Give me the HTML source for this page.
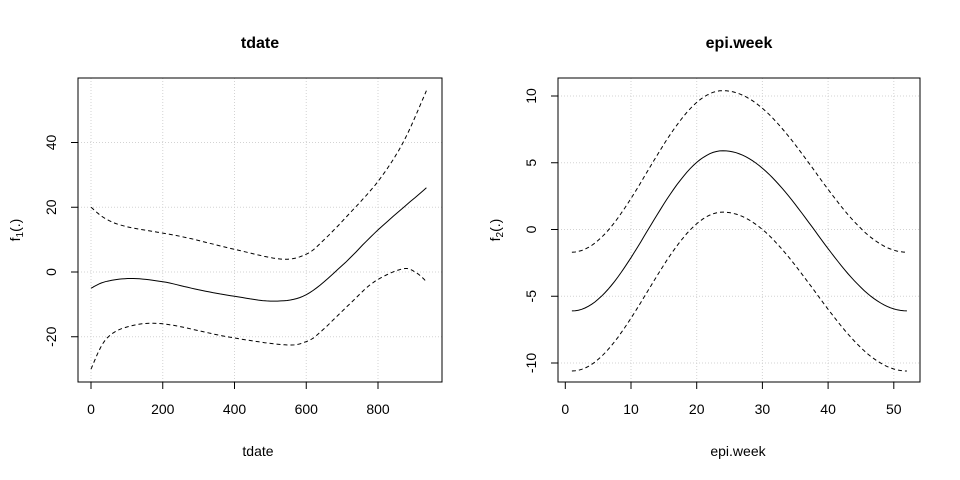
<!DOCTYPE html>
<html><head><meta charset="utf-8"><style>body{margin:0;background:#fff}svg{display:block;font-family:"Liberation Sans",Arial,sans-serif}</style></head>
<body>
<svg id="s" width="960" height="480" xmlns="http://www.w3.org/2000/svg">
<g font-size="14" fill="#000">
<text x="260" y="48" text-anchor="middle" font-weight="bold" font-size="16">tdate</text>
<text x="739" y="48" text-anchor="middle" font-weight="bold" font-size="16">epi.week</text>
<text x="258" y="456" text-anchor="middle">tdate</text>
<text x="738" y="456" text-anchor="middle">epi.week</text>
<text transform="translate(20,230) rotate(-90)" text-anchor="middle">f<tspan font-size="10" dy="3">1</tspan><tspan dy="-3">(.)</tspan></text>
<text transform="translate(500,230) rotate(-90)" text-anchor="middle">f<tspan font-size="10" dy="3">2</tspan><tspan dy="-3">(.)</tspan></text>
</g>
<g id="g"></g>
</svg>
<script>
var g=document.getElementById('g'),NS='http://www.w3.org/2000/svg';
function el(t,a,txt){var e=document.createElementNS(NS,t);for(var k in a)e.setAttribute(k,a[k]);if(txt!==undefined)e.textContent=txt;g.appendChild(e);return e;}
function cr(P,n){var o=[];for(var i=0;i<P.length-1;i++){var p0=P[Math.max(i-1,0)],p1=P[i],p2=P[i+1],p3=P[Math.min(i+2,P.length-1)];for(var j=0;j<n;j++){var t=j/n,t2=t*t,t3=t2*t;var f=function(a,b,c,d){return 0.5*(2*b+(-a+c)*t+(2*a-5*b+4*c-d)*t2+(-a+3*b-3*c+d)*t3)};o.push([f(p0[0],p1[0],p2[0],p3[0]),f(p0[1],p1[1],p2[1],p3[1])]);}}o.push(P[P.length-1]);return o;}
function line(pts,dash){el('polyline',{points:pts.map(p=>p[0].toFixed(1)+','+p[1].toFixed(1)).join(' '),fill:'none',stroke:'#000','stroke-width':1,'stroke-dasharray':dash?'4,3':'none'});}
var FS=14;
// left panel
var LX=v=>91+v*287/800, LY=v=>272-v*64.75/20;
[0,200,400,600,800].forEach(v=>{el('line',{x1:LX(v),x2:LX(v),y1:78,y2:382,stroke:'#d3d3d3','stroke-dasharray':'1,2'});el('line',{x1:LX(v),x2:LX(v),y1:382,y2:389,stroke:'#000'});el('text',{x:LX(v),y:414,'text-anchor':'middle','font-size':FS},v);});
[-20,0,20,40].forEach(v=>{el('line',{x1:78,x2:442,y1:LY(v),y2:LY(v),stroke:'#d3d3d3','stroke-dasharray':'1,2'});el('line',{x1:71,x2:78,y1:LY(v),y2:LY(v),stroke:'#000'});el('text',{transform:'translate(56,'+LY(v)+') rotate(-90)','text-anchor':'middle','font-size':FS},v);});
el('line',{x1:LX(0),x2:LX(800),y1:382,y2:382,stroke:'#000'});
el('line',{x1:78,x2:78,y1:LY(-20),y2:LY(40),stroke:'#000'});
el('rect',{x:78,y:78,width:364,height:304,fill:'none',stroke:'#000'});
function L(a){return cr(a.map(p=>[LX(p[0]),LY(p[1])]),10);}
line(L([[0,-5],[40,-3],[110,-2],[200,-3],[300,-5.5],[400,-7.5],[510,-9],[600,-7],[700,2],[800,13],[935,26]]));
line(L([[0,20],[40,16.5],[100,14],[250,11],[400,7],[530,4],[600,5.5],[650,10],[720,18],[800,28],[870,40],[935,56]]),1);
line(L([[0,-30],[40,-21],[100,-17],[200,-16],[380,-20],[540,-22.5],[600,-21.5],[640,-18.5],[720,-10],[790,-3],[870,1],[910,-0.5],[935,-3]]),1);
// right panel
var RX=v=>565.3+v*6.57, RY=v=>229.5-v*13.35;
[10,20,30,40,50].forEach(v=>{el('line',{x1:RX(v),x2:RX(v),y1:78,y2:382,stroke:'#d3d3d3','stroke-dasharray':'1,2'});});
[0,10,20,30,40,50].forEach(v=>{el('line',{x1:RX(v),x2:RX(v),y1:382,y2:389,stroke:'#000'});el('text',{x:RX(v),y:414,'text-anchor':'middle','font-size':FS},v);});
[-10,-5,0,5,10].forEach(v=>{el('line',{x1:558,x2:920,y1:RY(v),y2:RY(v),stroke:'#d3d3d3','stroke-dasharray':'1,2'});el('line',{x1:551,x2:558,y1:RY(v),y2:RY(v),stroke:'#000'});el('text',{transform:'translate(536,'+RY(v)+') rotate(-90)','text-anchor':'middle','font-size':FS},v);});
el('line',{x1:RX(0),x2:RX(50),y1:382,y2:382,stroke:'#000'});
el('line',{x1:558,x2:558,y1:RY(-10),y2:RY(10),stroke:'#000'});
el('rect',{x:558,y:78,width:362,height:304,fill:'none',stroke:'#000'});
function R(lo,hi){var o=[],off=(lo+hi)/2,A=(hi-lo)/2;for(var w=1;w<=52.001;w+=0.5){var c=w<24?Math.cos(Math.PI*(w-24)/23):Math.cos(Math.PI*(w-24)/28);o.push([RX(w),RY(off+A*c)]);}return o;}
line(R(-6.1,5.9));line(R(-1.7,10.4),1);line(R(-10.6,1.3),1);
</script>
</body></html>
